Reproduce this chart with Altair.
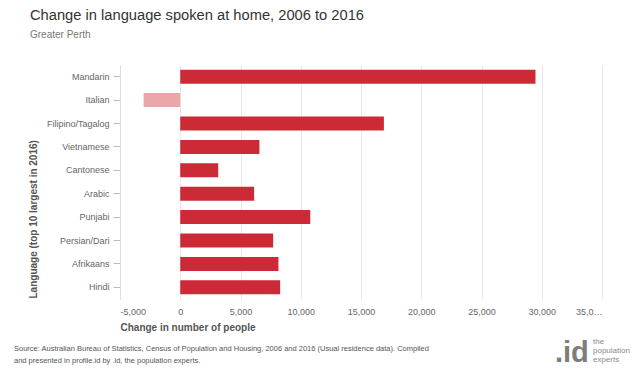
import altair as alt
import pandas as pd

languages = ["Mandarin", "Italian", "Filipino/Tagalog", "Vietnamese", "Cantonese",
             "Arabic", "Punjabi", "Persian/Dari", "Afrikaans", "Hindi"]
changes = [29480, -3040, 16900, 6570, 3150, 6130, 10790, 7710, 8150, 8290]
x_ticks = [-5000, 0, 5000, 10000, 15000, 20000, 25000, 30000, 35000]
title_text = "Change in language spoken at home, 2006 to 2016"
subtitle_text = "Greater Perth"
x_title = "Change in number of people"
y_title = "Language (top 10 largest in 2016)"
source_lines = [
    "Source: Australian Bureau of Statistics, Census of Population and Housing, 2006 and 2016 (Usual residence data). Compiled",
    "and presented in profile.id by .id, the population experts.",
]
logo_mark = [".id"]
logo_lines = ["the", "population", "experts"]

RED = "#cc2a36"
PINK = "#eba6aa"
FONT = "Liberation Sans"

df = pd.DataFrame({"language": languages, "change": changes})

bars = alt.Chart(df).mark_bar().encode(
    x=alt.X(
        "change:Q",
        scale=alt.Scale(domain=[-5000, 35000], nice=False, zero=False),
        axis=alt.Axis(
            values=x_ticks,
            title=x_title,
            labelExpr="datum.value == 35000 ? '35,0…' : replace(format(datum.value, ','), '−', '-')",
            domain=False,
            ticks=False,
            tickSize=0,
            labelPadding=8,
            labelFontSize=9,
            labelColor="#666",
            gridColor="#e8e8e8",
            titleFontSize=10,
            titleFontWeight="bold",
            titleColor="#555",
            titleAlign="left",
            titleBaseline="middle",
            titleX=0,
            titleY=28,
        ),
    ),
    y=alt.Y(
        "language:N",
        sort=languages,
        scale=alt.Scale(paddingInner=0.4, paddingOuter=0.2),
        axis=alt.Axis(
            title=y_title,
            grid=False,
            domainColor="#dddddd",
            tickColor="#bbbbbb",
            tickSize=7,
            labelPadding=4,
            labelFontSize=9,
            labelColor="#666",
            titleFontSize=10,
            titleFontWeight="bold",
            titleColor="#555",
            titleAngle=270,
            titleAlign="left",
            titleBaseline="middle",
            titleX=-87,
            titleY=233,
        ),
    ),
    color=alt.condition("datum.change < 0", alt.value(PINK), alt.value(RED)),
)

footer = alt.Chart(pd.DataFrame({"t": ["\n".join(source_lines)]})).mark_text(
    align="left", baseline="alphabetic", fontSize=7.5, color="#555",
    lineBreak="\n", lineHeight=12, font=FONT,
).encode(text="t:N", x=alt.value(-106), y=alt.value(286))

logo_big = alt.Chart(pd.DataFrame({"t": logo_mark})).mark_text(
    align="left", baseline="alphabetic", fontSize=29, fontWeight="bold",
    color="#7d7d7d", font=FONT,
).encode(text="t:N", x=alt.value(435), y=alt.value(297))

logo_small = alt.Chart(pd.DataFrame({"t": ["\n".join(logo_lines)]})).mark_text(
    align="left", baseline="alphabetic", fontSize=8, color="#8a8a8a",
    lineBreak="\n", lineHeight=9, font=FONT,
).encode(text="t:N", x=alt.value(473), y=alt.value(279))

chart = alt.layer(bars, footer, logo_big, logo_small).properties(
    width=482,
    height=234,
    autosize=alt.AutoSizeParams(type="none"),
    padding={"left": 112, "top": 57, "right": 30, "bottom": 69},
    title=alt.TitleParams(
        text=title_text,
        subtitle=subtitle_text,
        anchor="start",
        frame="group",
        dx=-90,
        offset=25,
        fontSize=14.7,
        fontWeight="normal",
        color="#333",
        subtitleFontSize=10,
        subtitleColor="#777",
        subtitlePadding=7,
        font=FONT,
        subtitleFont=FONT,
    ),
).configure(font=FONT).configure_view(stroke=None)

chart.save("out.html", embed_options={"renderer": "svg", "actions": False})
